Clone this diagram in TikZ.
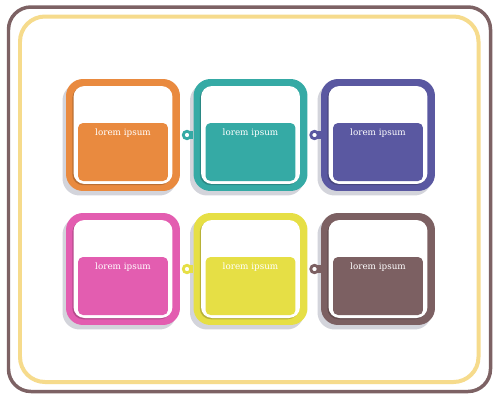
\documentclass[tikz,border=0pt]{standalone}
\usepackage{fontspec}
\setmainfont{DejaVu Serif}
\usetikzlibrary{shadows}
\definecolor{corange}{HTML}{E98A3F}
\definecolor{cteal}{HTML}{35AAA5}
\definecolor{cpurple}{HTML}{5A58A1}
\definecolor{cpink}{HTML}{E35DB0}
\definecolor{cyellow}{HTML}{E6DF45}
\definecolor{cbrown}{HTML}{7C6062}
\definecolor{cframe}{HTML}{7D6264}
\definecolor{cgold}{HTML}{F6DB8C}
\definecolor{cshadow}{HTML}{D3D4DB}
\begin{document}
\begin{tikzpicture}[x=0.02cm,y=-0.02cm,
  card/.style={rectangle,rounded corners=0.34cm,fill=#1,minimum width=2.28cm,minimum height=2.24cm,inner sep=0pt,
    drop shadow={shadow xshift=-0.07cm,shadow yshift=-0.09cm,fill=cshadow,opacity=1}},
  hole/.style={rectangle,rounded corners=0.22cm,fill=white,minimum width=1.98cm,minimum height=1.96cm,inner sep=0pt,
    drop shadow={shadow xshift=-0.025cm,shadow yshift=-0.025cm,fill=black,opacity=.2}},
  panel/.style={rectangle,rounded corners=0.1cm,fill=#1,minimum width=1.8cm,minimum height=1.16cm,inner sep=0pt},
  lbl/.style={text=white,font=\fontsize{5}{6}\selectfont,inner sep=0pt},
  ring/.style={circle,draw=#1,line width=0.055cm,fill=white,minimum size=0.15cm,inner sep=0pt},
  bar/.style={draw=#1,line width=0.16cm}]
  \useasboundingbox (0,0) rectangle (500,400);
  \fill[white] (0,0) rectangle (500,400);

  \draw[cframe,line width=0.07cm,rounded corners=0.45cm] (8.5,7) rectangle (490.5,391.5);
  \draw[cgold,line width=0.08cm,rounded corners=0.5cm] (20,16.5) rectangle (478.5,382);

  \node[card=corange] (c1) at (123,135) {};
  \node[card=cteal]   (c2) at (250.5,135) {};
  \node[card=cpurple] (c3) at (378,135) {};
  \node[card=cpink]   (c4) at (123,269) {};
  \node[card=cyellow] (c5) at (250.5,269) {};
  \node[card=cbrown]  (c6) at (378,269) {};

  \node[hole] (h1) at (c1) {};
  \node[hole] (h2) at (c2) {};
  \node[hole] (h3) at (c3) {};
  \node[hole] (h4) at (c4) {};
  \node[hole] (h5) at (c5) {};
  \node[hole] (h6) at (c6) {};

  \node[panel=corange] (p1) at (123,152) {};
  \node[panel=cteal]   (p2) at (250.5,152) {};
  \node[panel=cpurple] (p3) at (378,152) {};
  \node[panel=cpink]   (p4) at (123,286) {};
  \node[panel=cyellow] (p5) at (250.5,286) {};
  \node[panel=cbrown]  (p6) at (378,286) {};

  \node[lbl] (t1) at (123,133) {lorem ipsum};
  \node[lbl] (t2) at (250.5,133) {lorem ipsum};
  \node[lbl] (t3) at (378,133) {lorem ipsum};
  \node[lbl] (t4) at (123,267) {lorem ipsum};
  \node[lbl] (t5) at (250.5,267) {lorem ipsum};
  \node[lbl] (t6) at (378,267) {lorem ipsum};

  \coordinate (k12) at (187,135);
  \coordinate (k23) at (314.5,135);
  \coordinate (k45) at (187,269);
  \coordinate (k56) at (314.5,269);

  \draw[bar=cteal]   (k12) -- (c2.west);
  \draw[bar=cpurple] (k23) -- (c3.west);
  \draw[bar=cyellow] (k45) -- (c5.west);
  \draw[bar=cbrown]  (k56) -- (c6.west);

  \node[ring=cteal]   (r12) at (k12) {};
  \node[ring=cpurple] (r23) at (k23) {};
  \node[ring=cyellow] (r45) at (k45) {};
  \node[ring=cbrown]  (r56) at (k56) {};
\end{tikzpicture}
\end{document}
